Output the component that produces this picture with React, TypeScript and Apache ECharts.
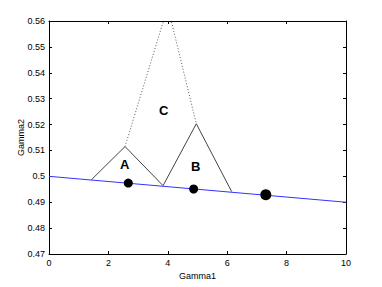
import React, { useEffect, useRef } from "react";
import * as echarts from "echarts";

const lineX = [0, 10];
const lineY = [0.5, 0.49];
const triA: number[][] = [[1.43, 0.4987], [2.56, 0.5115], [3.84, 0.4964]];
const triB: number[][] = [[3.84, 0.4964], [4.96, 0.5203], [6.15, 0.4941]];
const triC: number[][] = [[2.56, 0.5115], [4.0, 0.5655], [4.96, 0.5203]];
const dotX = [2.67, 4.87, 7.3];
const dotY = [0.4974, 0.4951, 0.4929];
const dotSize = [9, 9, 11];
const labelNames = ["A", "B", "C"];
const labelX = [2.55, 4.94, 3.86];
const labelY = [0.5045, 0.5037, 0.5253];

const FONT = "Liberation Sans";

export default function App() {
  const ref = useRef<HTMLDivElement>(null);
  useEffect(() => {
    if (!ref.current) return;
    const chart = echarts.init(ref.current, undefined, { renderer: "svg" });
    const axisCommon = {
      axisLine: { show: true, onZero: false, lineStyle: { color: "#000", width: 1 } },
      axisTick: { show: true, inside: true, length: 3, lineStyle: { color: "#000" } },
      splitLine: { show: false },
    };
    const tri = (d: number[][], dotted = false) => ({
      type: "line",
      data: d,
      symbol: "none",
      silent: true,
      clip: true,
      lineStyle: dotted
        ? { color: "#555", width: 1, type: [1, 2] }
        : { color: "#444", width: 1 },
      z: 3,
    });
    chart.setOption({
      animation: false,
      backgroundColor: "#fff",
      grid: { left: 49, right: 36, top: 21, bottom: 33 },
      xAxis: [
        {
          ...axisCommon,
          type: "value",
          min: 0,
          max: 10,
          interval: 2,
          name: "Gamma1",
          nameLocation: "middle",
          nameGap: 13,
          nameTextStyle: { fontFamily: FONT, fontSize: 9, color: "#000" },
          axisLabel: { fontFamily: FONT, fontSize: 9, color: "#000", margin: 4 },
        },
        {
          ...axisCommon,
          type: "value",
          position: "top",
          min: 0,
          max: 10,
          interval: 2,
          axisLabel: { show: false },
        },
      ],
      yAxis: [
        {
          ...axisCommon,
          type: "value",
          min: 0.47,
          max: 0.56,
          interval: 0.01,
          name: "Gamma2",
          nameLocation: "middle",
          nameGap: 24,
          nameMoveOverlap: false,
          nameTextStyle: { fontFamily: FONT, fontSize: 9, color: "#000" },
          axisLabel: {
            fontFamily: FONT,
            fontSize: 9,
            color: "#000",
            margin: 4,
            formatter: (v: number) => String(parseFloat(v.toFixed(2))),
          },
        },
        {
          ...axisCommon,
          type: "value",
          position: "right",
          min: 0.47,
          max: 0.56,
          interval: 0.01,
          axisLabel: { show: false },
        },
      ],
      series: [
        {
          type: "line",
          data: lineX.map((x, i) => [x, lineY[i]]),
          symbol: "none",
          lineStyle: { color: "#3333ff", width: 1 },
          z: 2,
        },
        tri(triA),
        tri(triB),
        tri(triC, true),
        {
          type: "scatter",
          data: dotX.map((x, i) => ({ value: [x, dotY[i]], symbolSize: dotSize[i] })),
          itemStyle: { color: "#000", opacity: 1 },
          z: 5,
        },
        {
          type: "scatter",
          data: labelNames.map((n, i) => ({ name: n, value: [labelX[i], labelY[i]] })),
          symbolSize: 0,
          itemStyle: { opacity: 1 },
          label: {
            show: true,
            position: "inside",
            formatter: (p: any) => p.name,
            fontFamily: FONT,
            fontWeight: "bold",
            fontSize: 13,
            color: "#000",
            opacity: 1,
          },
          z: 6,
        },
      ],
    });
    return () => chart.dispose();
  }, []);
  return (
    <div
      ref={ref}
      style={{ position: "fixed", left: 0, top: 0, width: 382, height: 287, background: "#fff" }}
    />
  );
}
